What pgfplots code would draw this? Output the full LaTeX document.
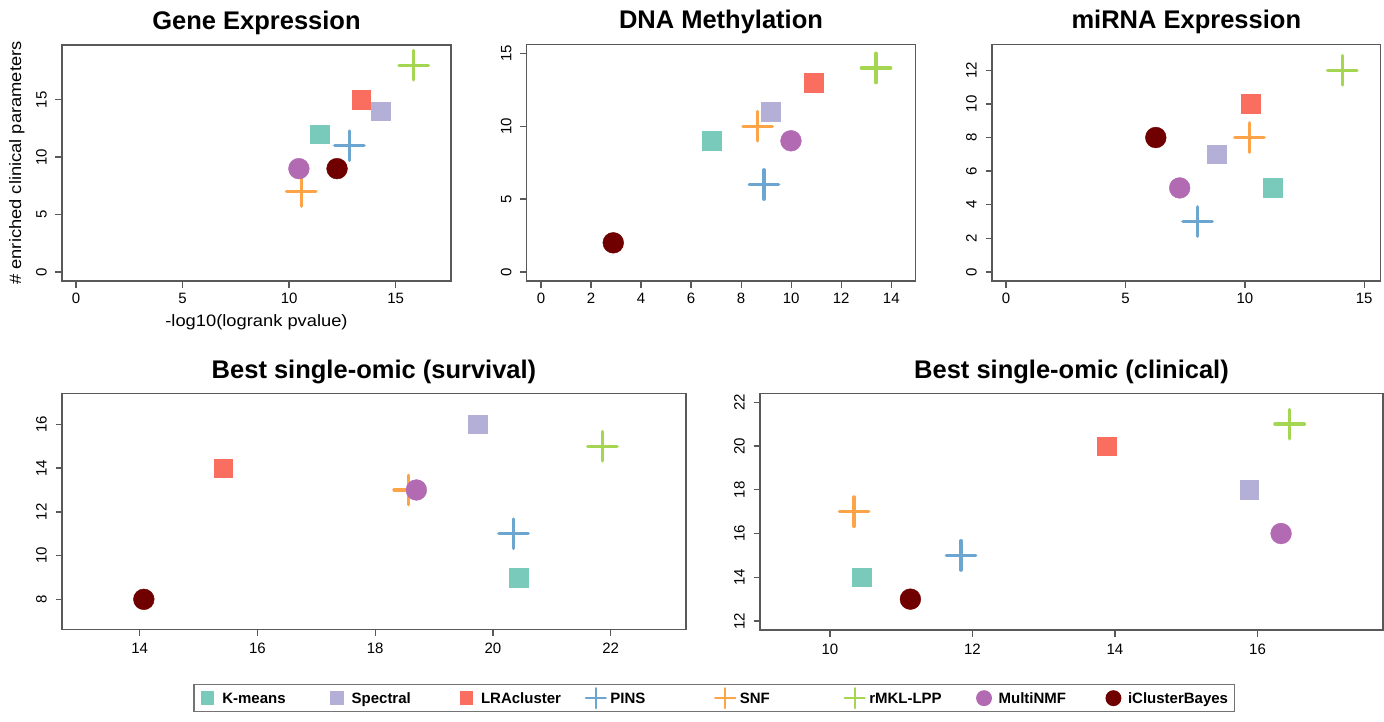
\documentclass[border=0pt]{standalone}
\usepackage{fontspec}
\setmainfont{Liberation Sans}
\usepackage{pgfplots}
\pgfplotsset{compat=1.18}

\definecolor{cKM}{RGB}{122,202,188}
\definecolor{cSP}{RGB}{179,175,215}
\definecolor{cLRA}{RGB}{250,110,95}
\definecolor{cPINS}{RGB}{108,165,208}
\definecolor{cSNF}{RGB}{253,164,72}
\definecolor{cRMKL}{RGB}{165,214,82}
\definecolor{cMNMF}{RGB}{178,106,179}
\definecolor{cICB}{RGB}{112,0,0}

\newcommand{\tf}{\fontsize{15}{15}\selectfont}

\pgfplotsset{
  panel/.style={scale only axis, anchor=south west, clip=false,
    axis line style={black!65, line width=1.3pt},
    every tick/.style={black!65, line width=1.3pt},
    tick align=outside, major tick length=6.5pt, tick pos=left,
    /pgf/number format/assume math mode=true,
    xticklabel={\tf\pgfmathprintnumber{\tick}},
    yticklabel={\tf\pgfmathprintnumber{\tick}},
    xticklabel style={anchor=base},
    yticklabel style={rotate=90, anchor=base},
    xticklabel shift=16pt, yticklabel shift=8.8pt,
    title style={font=\fontsize{25.5}{25.5}\selectfont\bfseries, anchor=base},
  },
  sq/.style={only marks, mark=square*, mark size=9.3pt},
  ci/.style={only marks, mark=*, mark size=10.4pt},
  pl/.style={only marks, mark=+, mark size=14.7pt,
    mark options={line width=3.4pt, line cap=round}},
  km/.style={sq, color=cKM},
  sp/.style={sq, color=cSP},
  lra/.style={sq, color=cLRA},
  pins/.style={pl, color=cPINS},
  snf/.style={pl, color=cSNF},
  rmkl/.style={pl, color=cRMKL},
  mnmf/.style={ci, color=cMNMF},
  icb/.style={ci, color=cICB},
  legmark/.style={legend image code/.code={%
    \path[draw=none, fill=none] (-7pt,-7pt) rectangle (7pt,7pt);
    \begin{pgfinterruptboundingbox}
    \draw[##1] plot coordinates {(0pt,0pt)};
    \end{pgfinterruptboundingbox}}},
  lsq/.style={only marks, mark=square*, mark size=6.1pt, legmark},
  lci/.style={only marks, mark=*, mark size=7.3pt, legmark},
  lpl/.style={only marks, mark=+, mark size=10pt,
    mark options={line width=2.3pt, line cap=round}, legmark},
}

\newcommand{\lab}[1]{\hspace*{7.6pt}\makebox[107.8pt][l]{#1}}

\begin{document}
\begin{tikzpicture}
\useasboundingbox (0pt,0pt) rectangle (1384pt,-722pt);

% Gene Expression
\begin{axis}[panel, at={(62pt,-281pt)}, width=389pt, height=236pt,
  xmin=-0.66, xmax=17.6, ymin=-0.78, ymax=19.76,
  xtick={0,5,10,15}, ytick={0,5,10,15},
  title={Gene Expression}, title style={at={(0.5,1.0403)}},
  xlabel={\fontsize{16.5}{16.5}\selectfont\scalebox{1.11}[1]{-log10(logrank pvalue)}},
  xlabel style={at={(axis description cs:0.5,-0.1936)}, anchor=base},
  ylabel={\fontsize{16.5}{16.5}\selectfont\scalebox{1.11}[1]{\# enriched clinical parameters}},
  ylabel style={at={(axis description cs:-0.1054,0.5)}, anchor=base},
]
\addplot[km] coordinates {(11.43,12)};
\addplot[sp] coordinates {(14.30,14)};
\addplot[lra] coordinates {(13.38,15)};
\addplot[pins] coordinates {(12.83,11)};
\addplot[snf] coordinates {(10.57,7)};
\addplot[rmkl] coordinates {(15.85,18)};
\addplot[mnmf] coordinates {(10.46,9)};
\addplot[icb] coordinates {(12.25,9)};
\end{axis}

% DNA Methylation
\begin{axis}[panel, at={(526.7pt,-281pt)}, width=388.6pt, height=236.7pt,
  xmin=-0.57, xmax=14.96, ymin=-0.62, ymax=15.62,
  xtick={0,2,...,14}, ytick={0,5,10,15},
  title={DNA Methylation}, title style={at={(0.5,1.0403)}},
]
\addplot[km] coordinates {(6.83,9)};
\addplot[sp] coordinates {(9.18,11)};
\addplot[lra] coordinates {(10.89,13)};
\addplot[pins] coordinates {(8.91,6)};
\addplot[snf] coordinates {(8.66,10)};
\addplot[rmkl] coordinates {(13.39,14)};
\addplot[mnmf] coordinates {(9.99,9)};
\addplot[icb] coordinates {(2.89,2)};
\end{axis}

% miRNA Expression
\begin{axis}[panel, at={(992pt,-281pt)}, width=388.7pt, height=236.7pt,
  xmin=-0.59, xmax=15.69, ymin=-0.54, ymax=13.55,
  xtick={0,5,10,15}, ytick={0,2,...,12},
  title={miRNA Expression}, title style={at={(0.5,1.0403)}},
]
\addplot[km] coordinates {(11.16,5)};
\addplot[sp] coordinates {(8.83,7)};
\addplot[lra] coordinates {(10.24,10)};
\addplot[pins] coordinates {(8.02,3)};
\addplot[snf] coordinates {(10.19,8)};
\addplot[rmkl] coordinates {(14.08,12)};
\addplot[mnmf] coordinates {(7.27,5)};
\addplot[icb] coordinates {(6.27,8)};
\end{axis}

% Best single-omic (survival)
\begin{axis}[panel, at={(62pt,-629.3pt)}, width=624pt, height=236pt,
  xmin=12.68, xmax=23.28, ymin=6.63, ymax=17.42,
  xtick={14,16,...,22}, ytick={8,10,...,16},
  xticklabel shift=17.5pt,
  title={Best single-omic (survival)}, title style={at={(0.5,1.0382)}},
]
\addplot[km] coordinates {(20.44,9)};
\addplot[sp] coordinates {(19.74,16)};
\addplot[lra] coordinates {(15.42,14)};
\addplot[pins] coordinates {(20.35,11)};
\addplot[snf] coordinates {(18.57,13)};
\addplot[rmkl] coordinates {(21.86,15)};
\addplot[mnmf] coordinates {(18.70,13)};
\addplot[icb] coordinates {(14.07,8)};
\end{axis}

% Best single-omic (clinical)
\begin{axis}[panel, at={(760pt,-630pt)}, width=623pt, height=236.7pt,
  xmin=9.02, xmax=17.76, ymin=11.59, ymax=22.41,
  xtick={10,12,14,16}, ytick={12,14,...,22},
  xticklabel shift=17.5pt,
  title={Best single-omic (clinical)}, title style={at={(0.5,1.0382)}},
]
\addplot[km] coordinates {(10.45,14)};
\addplot[sp] coordinates {(15.88,18)};
\addplot[lra] coordinates {(13.88,20)};
\addplot[pins] coordinates {(11.84,15)};
\addplot[snf] coordinates {(10.34,17)};
\addplot[rmkl] coordinates {(16.45,21)};
\addplot[mnmf] coordinates {(16.33,16)};
\addplot[icb] coordinates {(11.13,13)};
\end{axis}

% legend
\begin{axis}[at={(0pt,-722pt)}, anchor=south west, scale only axis,
  width=1384pt, height=722pt, xmin=0, xmax=1, ymin=0, ymax=1, hide axis,
  legend columns=8, legend cell align=left,
  legend style={at={(0.13974,0.05263)}, anchor=north west,
    draw=black!55, line width=1.3pt, fill=white,
    inner xsep=6.6pt, inner ysep=6.5pt, /tikz/column sep=0pt,
    nodes={inner sep=0pt, text height=10.7pt, text depth=0pt,
      font=\fontsize{15}{15}\selectfont\bfseries}},
]
\addlegendimage{lsq, color=cKM}\addlegendentry{\lab{K-means}}
\addlegendimage{lsq, color=cSP}\addlegendentry{\lab{Spectral}}
\addlegendimage{lsq, color=cLRA}\addlegendentry{\lab{LRAcluster}}
\addlegendimage{lpl, color=cPINS}\addlegendentry{\lab{PINS}}
\addlegendimage{lpl, color=cSNF}\addlegendentry{\lab{SNF}}
\addlegendimage{lpl, color=cRMKL}\addlegendentry{\lab{rMKL-LPP}}
\addlegendimage{lci, color=cMNMF}\addlegendentry{\lab{MultiNMF}}
\addlegendimage{lci, color=cICB}\addlegendentry{\hspace*{7.6pt}iClusterBayes}
\end{axis}
\end{tikzpicture}
\end{document}
